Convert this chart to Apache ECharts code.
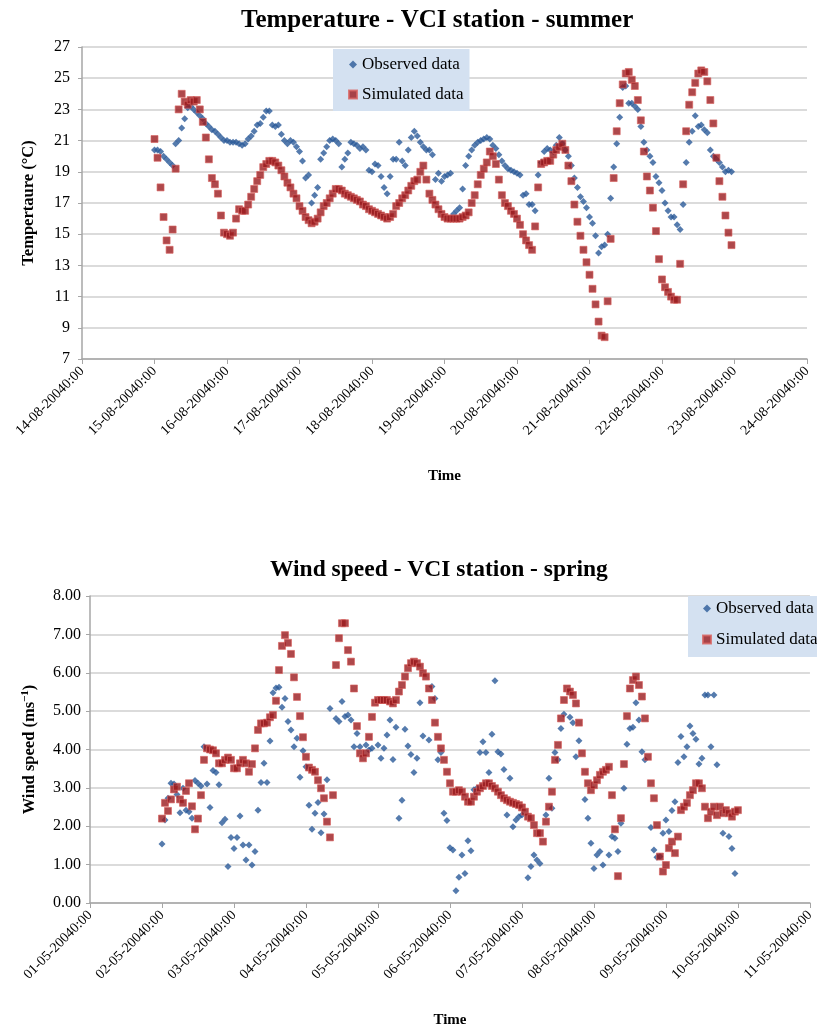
<!DOCTYPE html>
<html>
<head>
<meta charset="utf-8">
<script src="https://cdn.jsdelivr.net/npm/echarts@6/dist/echarts.min.js"></script>
<style>
  html, body { margin: 0; padding: 0; background: #fff; }
  #chart { width: 817px; height: 1030px; }
</style>
</head>
<body>
<div id="chart"></div>
<script>
// Tick labels (one per day)
const tempTicks = ["14-08-20040:00", "15-08-20040:00", "16-08-20040:00", "17-08-20040:00", "18-08-20040:00", "19-08-20040:00",
  "20-08-20040:00", "21-08-20040:00", "22-08-20040:00", "23-08-20040:00", "24-08-20040:00"];
const windTicks = ["01-05-20040:00", "02-05-20040:00", "03-05-20040:00", "04-05-20040:00", "05-05-20040:00", "06-05-20040:00",
  "07-05-20040:00", "08-05-20040:00", "09-05-20040:00", "10-05-20040:00", "11-05-20040:00"];

// Hourly values, first one at day 1 00:00 (15-08 / 02-05)
const tempObserved = [
  20.4, 20.4, 20.3, 20.0, 19.8, 19.6, 19.4, 20.8, 21.0, 21.8, 22.4, 23.1, 23.2, 23.0, 22.8, 22.6, 22.4, 22.1, 21.9, 21.7, 21.6, 21.4, 21.2, 21.0,
  21.0, 20.9, 20.9, 20.9, 20.8, 20.7, 20.8, 21.1, 21.3, 21.6, 22.0, 22.1, 22.5, 22.9, 22.9, 22.0, 21.9, 22.0, 21.4, 21.0, 20.8, 21.0, 20.9, 20.6,
  20.3, 19.7, 18.6, 18.8, 17.0, 17.5, 18.0, 19.8, 20.2, 20.6, 21.0, 21.1, 21.0, 20.8, 19.3, 19.8, 20.2, 20.9, 20.8, 20.7, 20.5, 20.6, 20.4, 19.1,
  19.0, 19.5, 19.4, 18.7, 18.0, 17.6, 18.7, 19.8, 19.8, 20.9, 19.7, 19.4, 20.4, 21.2, 21.6, 21.3, 20.9, 20.6, 20.4, 20.4, 20.1, 18.5, 18.9, 18.4,
  18.7, 18.8, 18.9, 16.3, 16.5, 16.7, 17.9, 19.4, 20.0, 20.4, 20.7, 20.9, 21.0, 21.1, 21.2, 21.1, 20.7, 20.5, 20.1, 19.7, 19.4, 19.2, 19.1, 19.0,
  18.9, 18.8, 17.5, 17.6, 16.9, 16.9, 16.5, 18.8, 19.6, 20.3, 20.5, 20.4, 20.3, 20.7, 21.2, 20.8, 20.4, 20.0, 19.4, 18.6, 18.0, 17.4, 17.1, 16.7,
  16.1, 15.7, 14.9, 13.8, 14.2, 14.3, 15.0, 17.3, 19.3, 20.8, 22.5, 24.4, 24.5, 23.4, 23.4, 23.2, 23.0, 21.9, 20.9, 20.4, 20.0, 19.6, 18.7, 18.3,
  17.8, 17.0, 16.5, 16.1, 16.1, 15.6, 15.3, 16.9, 19.6, 20.9, 21.6, 22.6, 21.9, 22.0, 21.7, 21.5, 20.4, 20.0, 19.8, 19.6, 19.3, 19.0, 19.1, 19.0
];
const tempSimulated = [
  21.1, 19.9, 18.0, 16.1, 14.6, 14.0, 15.3, 19.2, 23.0, 24.0, 23.5, 23.3, 23.6, 23.5, 23.6, 23.0, 22.2, 21.2, 19.8, 18.6, 18.2, 17.6, 16.2, 15.1,
  15.0, 14.9, 15.1, 16.0, 16.6, 16.5, 16.5, 16.9, 17.4, 17.9, 18.4, 18.8, 19.3, 19.5, 19.7, 19.7, 19.6, 19.4, 19.1, 18.7, 18.3, 18.0, 17.6, 17.3,
  16.8, 16.5, 16.1, 15.9, 15.7, 15.8, 16.0, 16.4, 16.8, 17.0, 17.3, 17.6, 17.9, 17.9, 17.8, 17.6, 17.5, 17.4, 17.3, 17.2, 17.1, 16.9, 16.8, 16.6,
  16.5, 16.4, 16.3, 16.2, 16.1, 16.0, 16.1, 16.3, 16.8, 17.0, 17.3, 17.5, 17.8, 18.1, 18.4, 18.5, 19.0, 19.4, 18.5, 17.6, 17.2, 16.9, 16.6, 16.3,
  16.1, 16.0, 16.0, 16.0, 16.0, 16.0, 16.1, 16.2, 16.4, 17.0, 17.5, 18.2, 18.8, 19.2, 19.6, 20.3, 20.0, 19.5, 18.5, 17.5, 17.0, 16.8, 16.5, 16.3,
  16.0, 15.6, 15.0, 14.6, 14.3, 14.0, 15.5, 18.0, 19.5, 19.6, 19.7, 19.7, 20.1, 20.4, 20.6, 20.8, 20.4, 19.4, 18.4, 16.9, 15.8, 14.9, 14.0, 13.2,
  12.4, 11.5, 10.5, 9.4, 8.5, 8.4, 10.7, 14.7, 18.6, 21.6, 23.4, 24.6, 25.3, 25.4, 24.9, 24.5, 23.6, 22.3, 20.3, 18.7, 17.8, 16.7, 15.2, 13.4,
  12.1, 11.6, 11.3, 11.0, 10.8, 10.8, 13.1, 18.2, 21.6, 23.3, 24.1, 24.7, 25.3, 25.5, 25.4, 24.8, 23.6, 22.1, 19.9, 18.4, 17.4, 16.2, 15.1, 14.3
];
const windObserved = [
  1.54, 2.16, 2.73, 3.12, 3.10, 2.83, 2.35, 2.99, 2.42, 2.38, 2.21, 3.19, 3.12, 3.05, 4.07, 3.10, 2.49, 3.45, 3.40, 3.08, 2.09, 2.18, 0.95, 1.71,
  1.42, 1.71, 2.27, 1.51, 1.12, 1.51, 0.99, 1.34, 2.42, 3.14, 3.64, 3.14, 4.22, 5.48, 5.60, 5.62, 5.10, 5.33, 4.73, 4.51, 4.07, 4.29, 3.28, 3.97,
  3.55, 2.55, 1.92, 2.34, 2.62, 1.83, 2.32, 3.21, 5.07, null, 4.81, 4.73, 5.25, 4.86, 4.90, 4.77, 4.07, 4.42, 4.07, null, 4.12, 3.99, 4.03, null,
  4.12, 3.77, 4.03, 4.38, 4.77, 3.74, 4.58, 2.21, 2.68, 4.53, 4.09, 3.87, 3.40, 3.77, 5.22, 4.35, null, 4.25, 5.64, 5.33, 3.73, 3.92, 2.34, 2.15,
  1.44, 1.38, 0.32, 0.67, 1.25, 0.77, 1.62, 1.36, 2.95, 2.99, 3.92, 4.20, 3.92, 3.40, 4.40, 5.79, 3.94, 3.88, 3.48, 2.29, 3.25, 1.99, 2.16, 2.25,
  2.29, null, 0.66, 0.95, 1.25, 1.12, 1.03, null, 2.29, 3.25, 2.47, 3.92, 3.73, 4.55, 4.92, null, 4.84, 4.70, 3.81, 4.23, null, 2.70, 2.21, 1.56,
  0.90, 1.25, 1.34, 0.99, null, 1.25, 1.73, 1.69, 1.34, 2.08, 2.99, 4.14, 4.55, 4.58, 5.22, 4.77, 3.94, 3.73, null, 1.97, 1.38, 1.19, 1.21, 1.82,
  2.16, 1.86, 2.41, 2.64, 3.66, 4.34, 3.81, 4.07, 4.61, 4.42, 4.27, 3.62, 3.77, 5.42, 5.42, 4.07, 5.42, 3.60, null, 1.82, null, 1.73, 1.42, 0.77
];
const windSimulated = [
  2.20, 2.61, 2.40, 2.70, 2.96, 3.03, 2.70, 2.61, 2.92, 3.12, 2.52, 1.92, 2.20, 2.81, 3.73, 4.03, 4.00, 3.98, 3.90, 3.64, 3.64, 3.73, 3.79, 3.73,
  3.51, 3.51, 3.64, 3.73, 3.64, 3.42, 3.62, 4.03, 4.51, 4.68, 4.68, 4.70, 4.84, 4.90, 5.27, 6.07, 6.70, 6.98, 6.78, 6.49, 5.88, 5.37, 4.87, 4.32,
  3.81, 3.53, 3.47, 3.42, 3.20, 2.99, 2.73, 2.12, 1.71, 2.81, 6.20, 6.90, 7.29, 7.29, 6.59, 6.29, 5.59, 4.61, 3.90, 3.77, 3.90, 4.33, 4.85, 5.22,
  5.29, 5.29, 5.29, 5.29, 5.25, 5.20, 5.29, 5.51, 5.68, 5.90, 6.12, 6.25, 6.29, 6.25, 6.16, 5.99, 5.90, 5.59, 5.29, 4.70, 4.33, 4.03, 3.73, 3.42,
  3.12, 2.90, 2.90, 2.94, 2.90, 2.77, 2.64, 2.64, 2.77, 2.90, 2.99, 3.05, 3.12, 3.12, 3.05, 2.99, 2.90, 2.81, 2.73, 2.68, 2.64, 2.61, 2.58, 2.55,
  2.49, 2.38, 2.25, 2.21, 2.03, 1.82, 1.82, 1.60, 2.12, 2.51, 2.90, 3.73, 4.12, 4.81, 5.29, 5.59, 5.51, 5.42, 5.20, 4.70, 3.90, 3.42, 3.12, 2.94,
  3.07, 3.20, 3.34, 3.42, 3.47, 3.55, 2.81, 1.92, 0.70, 2.21, 3.62, 4.87, 5.59, 5.81, 5.90, 5.68, 5.38, 4.81, 3.81, 3.12, 2.73, 2.03, 1.21, 0.82,
  0.99, 1.43, 1.60, 1.30, 1.73, 2.42, 2.51, 2.61, 2.81, 2.94, 3.12, 3.12, 2.99, 2.51, 2.21, 2.38, 2.51, 2.29, 2.51, 2.34, 2.42, 2.34, 2.25, 2.38, 2.42
];

const FONT = "Liberation Serif";
const BLUE = "#2a5a98";
const RED = "#9a1a1e";

// hour index -> [hours since first tick, value], gaps dropped
const toPoints = (values) =>
  values.map((v, i) => [24 + i, v]).filter((p) => p[1] !== null);

const xAxisFor = (gridIndex, ticks) => ({
  type: "value",
  gridIndex: gridIndex,
  min: 0,
  max: 240,
  interval: 24,
  name: "Time",
  nameLocation: "middle",
  nameGap: 110,
  nameTextStyle: { fontFamily: FONT, fontSize: 15, fontWeight: "bold", color: "#000" },
  axisLine: { lineStyle: { color: "#a6a6a6", width: 1.5 } },
  axisTick: { show: true, length: 5, lineStyle: { color: "#a6a6a6" } },
  splitLine: { show: false },
  axisLabel: {
    rotate: 45,
    margin: 10,
    fontFamily: FONT,
    fontSize: 14,
    color: "#000",
    formatter: (v) => ticks[Math.round(v / 24)],
  },
});

const yStyle = {
  axisLine: { show: true, lineStyle: { color: "#a6a6a6", width: 1.5 } },
  axisTick: { show: true, length: 4, lineStyle: { color: "#a6a6a6" } },
  splitLine: { lineStyle: { color: "#cfcfcf", width: 1.5 } },
};

const legendFor = (left, top, padding, gap) => ({
  orient: "vertical",
  left: left,
  top: top,
  padding: padding,
  itemGap: gap,
  itemWidth: 8,
  itemHeight: 8,
  backgroundColor: "#d4e1f1",
  textStyle: { fontFamily: FONT, fontSize: 17, color: "#000" },
  data: [
    { name: "Observed data", icon: "diamond" },
    { name: "Simulated data", icon: "rect" },
  ],
});

const chart = echarts.init(document.getElementById("chart"));

chart.setOption({
  animation: false,
  title: [
    {
      text: "Temperature - VCI station - summer",
      left: 236,
      top: 3,
      textStyle: { fontFamily: FONT, fontSize: 25, fontWeight: "bold", color: "#000" },
    },
    {
      text: "Wind speed - VCI station - spring",
      left: 265,
      top: 553,
      textStyle: { fontFamily: FONT, fontSize: 23.5, fontWeight: "bold", color: "#000" },
    },
  ],
  legend: [
    legendFor(333, 49, [7, 6, 8, 15], 13),
    legendFor(688, 596, [4, 4, 9, 14], 14),
  ],
  grid: [
    { left: 82, top: 47, width: 725, height: 312 },
    { left: 90, top: 596, width: 722, height: 307 },
  ],
  xAxis: [xAxisFor(0, tempTicks), xAxisFor(1, windTicks)],
  yAxis: [
    Object.assign({
      type: "value",
      gridIndex: 0,
      min: 7,
      max: 27,
      interval: 2,
      name: "Tempertaure (°C)",
      nameLocation: "middle",
      nameGap: 45,
      nameTextStyle: { fontFamily: FONT, fontSize: 16.5, fontWeight: "bold", color: "#000" },
      axisLabel: { fontFamily: FONT, fontSize: 16, color: "#000", margin: 12 },
    }, yStyle),
    Object.assign({
      type: "value",
      gridIndex: 1,
      min: 0,
      max: 8,
      interval: 1,
      name: "Wind speed (ms{sup|−1})",
      nameLocation: "middle",
      nameGap: 51,
      nameTextStyle: {
        fontFamily: FONT,
        fontSize: 16.5,
        fontWeight: "bold",
        color: "#000",
        rich: {
          sup: { fontFamily: FONT, fontSize: 11, fontWeight: "bold", verticalAlign: "top", padding: [0, 0, 8, 0] },
        },
      },
      axisLabel: { fontFamily: FONT, fontSize: 16, color: "#000", margin: 9, formatter: (v) => v.toFixed(2) },
    }, yStyle),
  ],
  series: [
    {
      name: "Observed data",
      type: "scatter",
      xAxisIndex: 0,
      yAxisIndex: 0,
      symbol: "diamond",
      symbolSize: 7,
      itemStyle: { color: BLUE },
      data: toPoints(tempObserved),
    },
    {
      name: "Simulated data",
      type: "scatter",
      xAxisIndex: 0,
      yAxisIndex: 0,
      symbol: "rect",
      symbolSize: 7,
      itemStyle: { color: RED, borderColor: "#d8625f", borderWidth: 0.8 },
      data: toPoints(tempSimulated),
    },
    {
      name: "Observed data",
      type: "scatter",
      xAxisIndex: 1,
      yAxisIndex: 1,
      symbol: "diamond",
      symbolSize: 7,
      itemStyle: { color: BLUE },
      data: toPoints(windObserved),
    },
    {
      name: "Simulated data",
      type: "scatter",
      xAxisIndex: 1,
      yAxisIndex: 1,
      symbol: "rect",
      symbolSize: 7,
      itemStyle: { color: RED, borderColor: "#d8625f", borderWidth: 0.8 },
      data: toPoints(windSimulated),
    },
  ],
});
</script>
</body>
</html>
